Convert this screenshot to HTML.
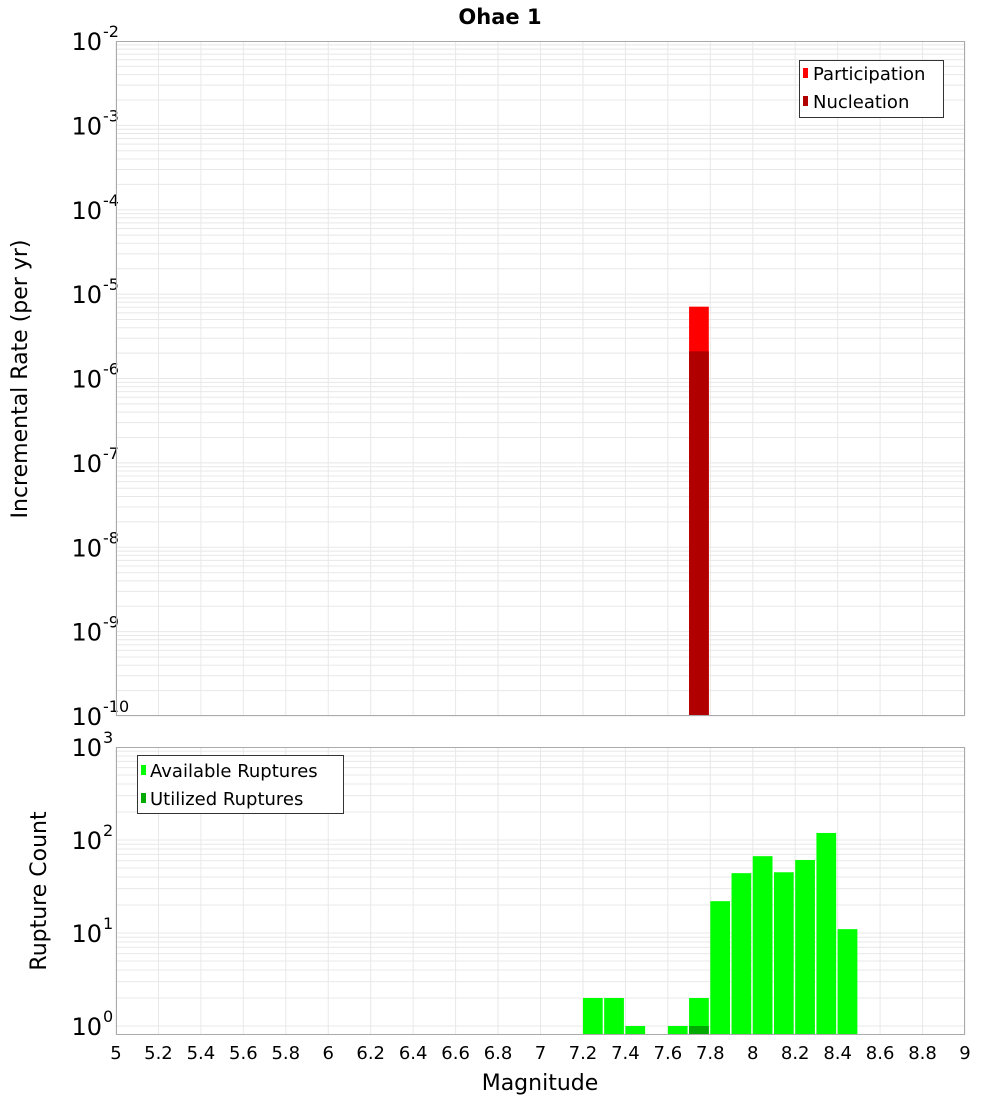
<!DOCTYPE html>
<html><head><meta charset="utf-8"><style>
body{margin:0;background:#fff}
svg{display:block;font-family:"DejaVu Sans","Liberation Sans",sans-serif}
</style></head><body>
<svg id="c" width="1000" height="1100" xmlns="http://www.w3.org/2000/svg">
<text x="500" y="24" text-anchor="middle" font-size="21" font-weight="bold">Ohae 1</text>
<g id="topPanel"></g>
<g id="botPanel"></g>
<text transform="translate(27,379) rotate(-90)" text-anchor="middle" font-size="22">Incremental Rate (per yr)</text>
<text transform="translate(46,891) rotate(-90)" text-anchor="middle" font-size="22">Rupture Count</text>
<text x="540" y="1090" text-anchor="middle" font-size="22">Magnitude</text>
<g>
<rect x="799.5" y="60.5" width="144" height="57" fill="#fff" stroke="#333" stroke-width="1"/>
<rect x="803" y="68" width="5" height="10" fill="#ff0000"/>
<text x="813" y="80" font-size="18">Participation</text>
<rect x="803" y="96" width="5" height="10" fill="#b00000"/>
<text x="813" y="108" font-size="18">Nucleation</text>
</g>
<g>
<rect x="137.5" y="755.5" width="206" height="58" fill="#fff" stroke="#333" stroke-width="1"/>
<rect x="141" y="765" width="5" height="10" fill="#00ff00"/>
<text x="150" y="777" font-size="18">Available Ruptures</text>
<rect x="141" y="793" width="5" height="10" fill="#00aa00"/>
<text x="150" y="805" font-size="18">Utilized Ruptures</text>
</g>
</svg>
<script>
const magBins=[7.7];
const participation=[7.1e-6];
const nucleation=[2.1e-6];
const countBins=[7.2,7.3,7.4,7.6,7.7,7.8,7.9,8.0,8.1,8.2,8.3,8.4];
const available=[2,2,1,1,2,22,44,67,45,61,119,11];
const utilized=[0,0,0,0,1,0,0,0,0,0,0,0];
const xTicks=["5","5.2","5.4","5.6","5.8","6","6.2","6.4","6.6","6.8","7","7.2","7.4","7.6","7.8","8","8.2","8.4","8.6","8.8","9"];
const topExps=[-2,-3,-4,-5,-6,-7,-8,-9,-10];
const botExps=[3,2,1,0];

const NS="http://www.w3.org/2000/svg";
const L=116,R=965;
const x=m=>L+(m-5)*(R-L)/4;
const yTop=v=>41+(-2-Math.log10(v))*84.375;
const yBot=v=>1026-Math.log10(v)*93;
function mk(p,t,a){const e=document.createElementNS(NS,t);for(const k in a)e.setAttribute(k,a[k]);p.appendChild(e);return e;}
function panel(g,y0,y1,ylog,emin,emax,exps,pre){
  mk(g,'rect',{x:L,y:y0,width:R-L,height:y1-y0,fill:'#fff'});
  for(let e=emin;e<=emax;e++)for(let k=1;k<10;k++){
    const yy=ylog(k*Math.pow(10,e));
    if(yy<y0-0.5||yy>y1+0.5)continue;
    const ln=mk(g,'line',{x1:L,x2:R,y1:yy,y2:yy,stroke:'#e8e8e8','stroke-width':1});
    
    
  }
  xTicks.forEach(t=>{const xx=x(+t);
    const ln=mk(g,'line',{x1:xx,x2:xx,y1:y0,y2:y1,stroke:'#e8e8e8','stroke-width':1});
    
    
  });
  exps.forEach(e=>{const yy=ylog(Math.pow(10,e));
    const t=mk(g,'text',{x:102,y:yy+9,'text-anchor':'end','font-size':24});
    t.textContent='10';
    
    
    const s=mk(g,'text',{x:103,y:yy-4,'font-size':16});
    s.textContent=String(e);
    
    
  });
}
const gTop=document.getElementById('topPanel'),gBot=document.getElementById('botPanel');
panel(gTop,41,716,yTop,-10,-3,topExps,'rate');
panel(gBot,747,1035,yBot,0,2,botExps,'count');
const bw=(x(5.1)-x(5))*0.93;
magBins.forEach((m,i)=>{
  const p=mk(gTop,'rect',{x:x(m),y:yTop(participation[i]),width:bw,height:716-yTop(participation[i]),fill:'#ff0000'});
  
  
  const n=mk(gTop,'rect',{x:x(m),y:yTop(nucleation[i]),width:bw,height:716-yTop(nucleation[i]),fill:'#b00000'});
  
  
});
countBins.forEach((m,i)=>{
  const a=mk(gBot,'rect',{x:x(m),y:yBot(available[i]),width:bw,height:1035-yBot(available[i]),fill:'#00ff00'});
  
  
  if(utilized[i]>0){
    const u=mk(gBot,'rect',{x:x(m),y:yBot(utilized[i]),width:bw,height:1035-yBot(utilized[i]),fill:'#00aa00'});
    
    
  }
});
[[gTop,41,716],[gBot,747,1035]].forEach(([g,a,b])=>{
  const f=mk(g,'rect',{x:L+0.5,y:a+0.5,width:R-L-1,height:b-a-1,fill:'none',stroke:'#aaa','stroke-width':1});
  
  
});
xTicks.forEach(t=>{
  const tx=mk(gBot,'text',{x:x(+t),y:1059,'text-anchor':'middle','font-size':18});
  tx.textContent=t;
  
  
});
</script>
</body></html>
